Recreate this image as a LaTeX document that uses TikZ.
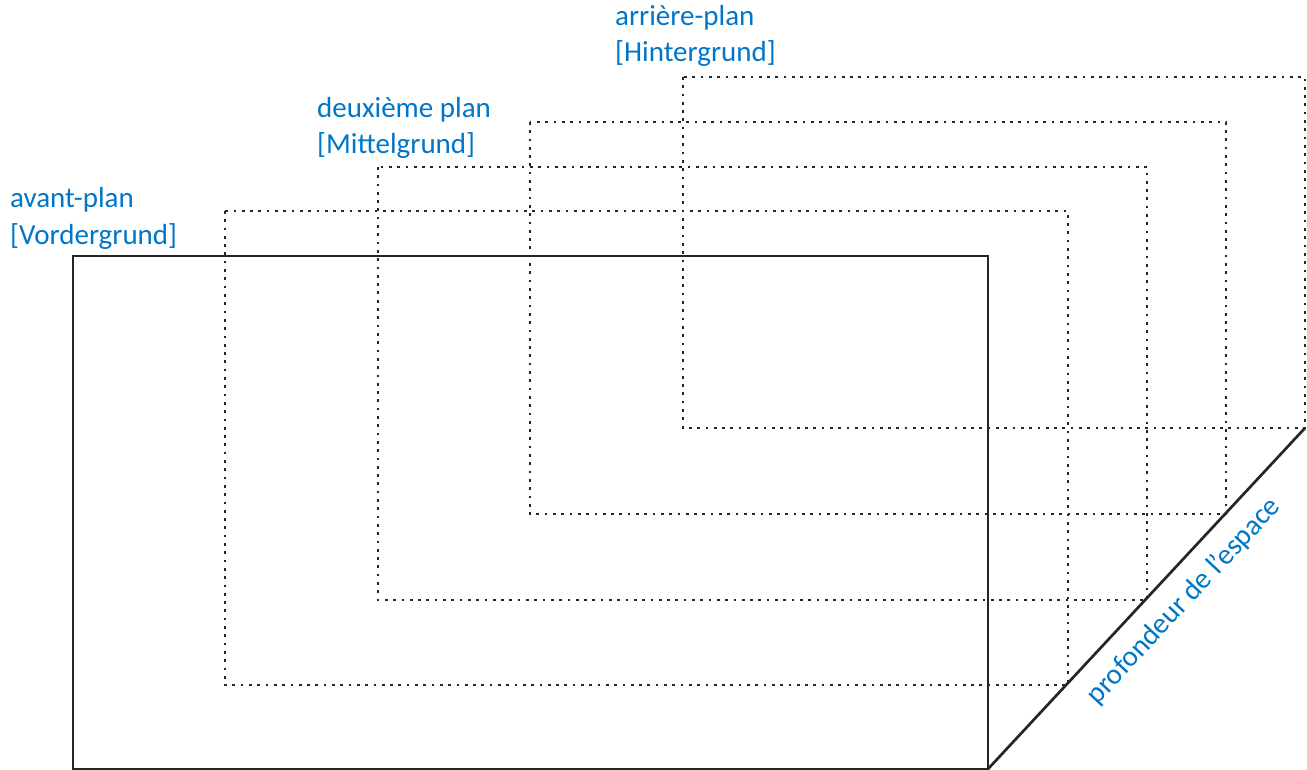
\documentclass[tikz,border=0pt]{standalone}
\usepackage{fontspec}
\setmainfont{Carlito}
\definecolor{lblue}{RGB}{0,118,200}
\begin{document}
\begin{tikzpicture}[x=1pt,y=-1pt,
  lbl/.style={text=lblue,font=\fontsize{29}{36}\selectfont,align=left,inner sep=0pt},
  front/.style={draw=black!85,line width=2.7pt},
  plane/.style={draw=black!85,line width=2.7pt,dash pattern=on 2.7pt off 5.6pt}]
\useasboundingbox (0,0) rectangle (1307,770);
\coordinate (fA) at (73,256);
\coordinate (fB) at (988,769);
\draw[front] (fA) rectangle (fB);
\coordinate (p1a) at (225,211);
\coordinate (p1b) at (1068,685);
\draw[plane] (p1a) rectangle (p1b);
\coordinate (p2a) at (378,167);
\coordinate (p2b) at (1147,600);
\draw[plane] (p2a) rectangle (p2b);
\coordinate (p3a) at (530,122);
\coordinate (p3b) at (1226,514);
\draw[plane] (p3a) rectangle (p3b);
\coordinate (p4a) at (683,77);
\coordinate (p4b) at (1305,428);
\draw[plane] (p4a) rectangle (p4b);
\draw[front] (fB) -- (p4b);
\node[lbl,anchor=base west] (l1) at (10,244) {avant-plan\\{[Vordergrund]}};
\node[lbl,anchor=base west] (l2) at (317,154) {deuxième plan\\{[Mittelgrund]}};
\node[lbl,anchor=base west] (l3) at (615,62) {arrière-plan\\{[Hintergrund]}};
\node[text=lblue,font=\fontsize{29}{34}\selectfont,inner sep=0pt,rotate=47.1] (depth) at (1184,601) {profondeur de l’espace};
\end{tikzpicture}
\end{document}
